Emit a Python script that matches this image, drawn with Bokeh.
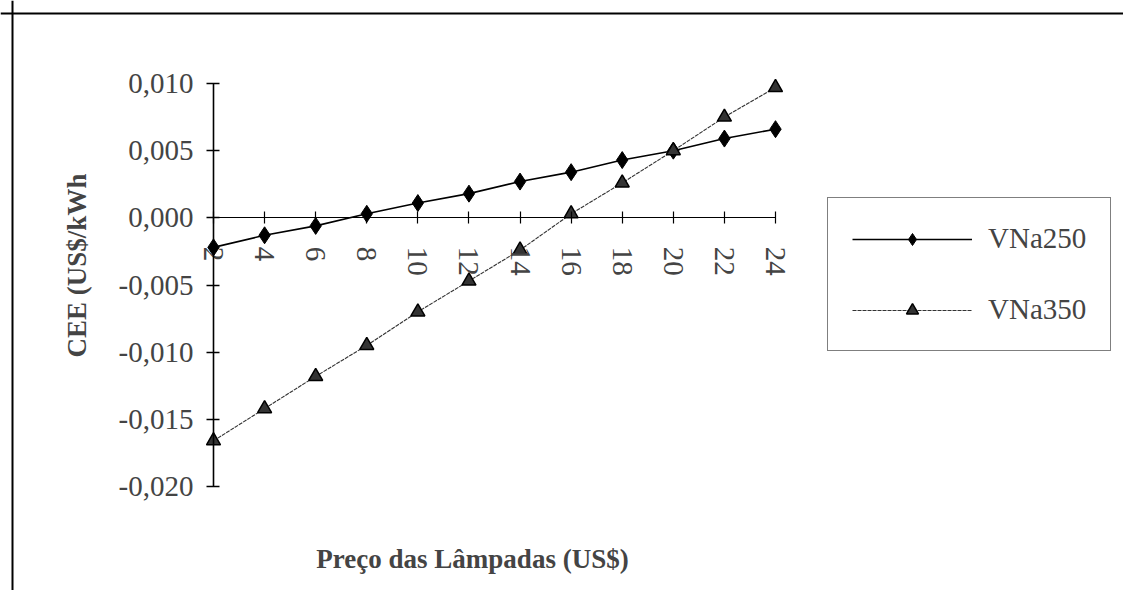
from math import pi
from bokeh.plotting import figure
from bokeh.models import (FixedTicker, CustomJSTickFormatter, Span, Label,
                          Legend, LegendItem, Range1d)
from bokeh.embed import file_html
from bokeh.resources import INLINE

# ---- data ----
preco = [2, 4, 6, 8, 10, 12, 14, 16, 18, 20, 22, 24]
vna250 = [-0.0022, -0.0013, -0.0006, 0.0003, 0.0011, 0.0018, 0.0027, 0.0034,
          0.0043, 0.0050, 0.0059, 0.0066]
vna350 = [-0.0166, -0.0142, -0.0118, -0.0095, -0.0070, -0.0047, -0.0024,
          0.0003, 0.0026, 0.0050, 0.0075, 0.0097]
y_ticks = [-0.020, -0.015, -0.010, -0.005, 0.000, 0.005, 0.010]
x_ticks = [2, 4, 6, 8, 10, 12, 14, 16, 18, 20, 22, 24]
x_title = "Preço das Lâmpadas (US$)"
y_title = "CEE (US$/kWh"
series_names = ["VNa250", "VNa350"]

# ---- layout (pixel geometry of the frame) ----
W, H = 1123, 590
PXX = (775 - 213) / 22.0      # px per x unit
PXY = (486 - 83) / 0.030      # px per y unit
XS = 2 - 213 / PXX
XE = XS + W / PXX
YE = 0.010 + 83 / PXY
YS = YE - H / PXY


def dx(px):
    return XS + px / PXX


def dy(py):
    return YE - py / PXY


FONT = "Liberation Serif"

p = figure(width=W, height=H, output_backend="svg", toolbar_location=None,
           x_range=Range1d(XS, XE), y_range=Range1d(YS, YE),
           min_border=0)
p.outline_line_color = None
p.xgrid.visible = False
p.ygrid.visible = False
p.background_fill_color = "white"
p.border_fill_color = "white"

# axes
xa = p.xaxis[0]
xa.fixed_location = 0
xa.bounds = (x_ticks[0], x_ticks[-1])
xa.ticker = FixedTicker(ticks=x_ticks)
xa.major_tick_in = 6
xa.major_tick_out = 6
xa.minor_tick_in = 0
xa.minor_tick_out = 0
xa.major_label_orientation = "vertical"
xa.major_label_text_font = FONT
xa.major_label_text_font_size = "29px"
xa.major_label_standoff = 23
xa.axis_line_color = "black"
xa.axis_line_width = 1.2
xa.major_tick_line_width = 1.2

ya = p.yaxis[0]
ya.fixed_location = x_ticks[0]
ya.bounds = (y_ticks[0], y_ticks[-1])
ya.ticker = FixedTicker(ticks=y_ticks)
ya.formatter = CustomJSTickFormatter(code="return tick.toFixed(3).replace('.', ',');")
ya.major_tick_in = 6
ya.major_tick_out = 7
ya.minor_tick_in = 0
ya.minor_tick_out = 0
ya.major_label_text_font = FONT
ya.major_label_text_font_size = "29px"
ya.major_label_standoff = 13
ya.axis_line_color = "black"
ya.axis_line_width = 1.6
ya.major_tick_line_width = 1.4

# outer chart border (left and top visible)
p.add_layout(Span(location=dx(12), dimension="height", line_color="black", line_width=2))
p.add_layout(Span(location=dy(13), dimension="width", line_color="black", line_width=2))

# series
l1 = p.line(preco, vna250, line_color="black", line_width=1.6)
m1 = p.scatter(preco, vna250, marker="diamond", size=17, fill_color="black",
               line_color="black")
l2 = p.line(preco, vna350, line_color="#333333", line_width=1.1, line_dash="4 1")
m2 = p.scatter(preco, vna350, marker="triangle", size=14, fill_color="#333333",
               line_color="black", line_width=1.5)

legend = Legend(items=[LegendItem(label=series_names[0], renderers=[l1, m1]),
                       LegendItem(label=series_names[1], renderers=[l2, m2])],
                location=(827, H - 351), orientation="vertical",
                glyph_width=120, glyph_height=30, label_height=30,
                label_standoff=16, spacing=38, padding=24, margin=0,
                label_text_font=FONT, label_text_font_size="29px",
                border_line_color="black", border_line_width=1.2,
                background_fill_color="white", background_fill_alpha=1)
p.add_layout(legend, "center")

# titles
p.add_layout(Label(x=dx(472), y=dy(558), text=x_title, text_font=FONT,
                   text_font_style="bold", text_font_size="27px",
                   text_align="center", text_baseline="middle"))
p.add_layout(Label(x=dx(76), y=dy(265), text=y_title, text_font=FONT,
                   text_font_style="bold", text_font_size="27px", angle=pi / 2,
                   text_align="center", text_baseline="middle"))

open("out.html", "w").write(file_html(p, INLINE))
